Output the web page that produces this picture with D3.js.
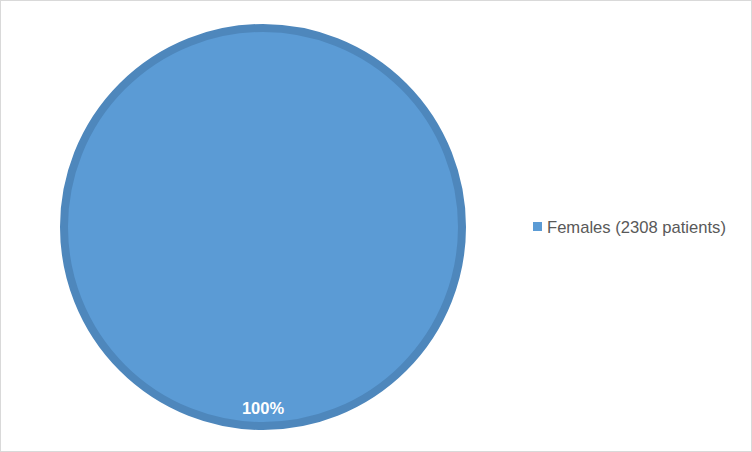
<!DOCTYPE html>
<html>
<head>
<meta charset="utf-8">
<script src="https://cdn.jsdelivr.net/npm/d3@7"></script>
<style>
  body { margin: 0; background: #fff; }
  svg { display: block; }
</style>
</head>
<body>
<svg id="canvas" width="752" height="452"></svg>
<script>
let categories = ['Females (2308 patients)'];
let values = [2308];
let colors = ['#5B9BD5'];

let canvas = d3.select('#canvas');

// chart frame
canvas.append('rect')
  .attr('x', 0.5).attr('y', 0.5)
  .attr('width', 751).attr('height', 451)
  .attr('fill', '#fff')
  .attr('stroke', '#d9d9d9');

let cx = 263, cy = 227, r = 199;
let total = d3.sum(values);

let pie = d3.pie().sort(null);
let arcs = pie(values);

let arc = d3.arc().innerRadius(0).outerRadius(r);
let labelArc = d3.arc().innerRadius(181).outerRadius(181);

let g = canvas.append('g').attr('transform', `translate(${cx},${cy})`);

g.selectAll('path')
  .data(arcs)
  .enter()
  .append('path')
  .attr('d', arc)
  .attr('fill', (d, i) => colors[i])
  .attr('stroke', '#4E87BC')
  .attr('stroke-width', 8);

g.selectAll('text')
  .data(arcs)
  .enter()
  .append('text')
  .attr('transform', (d) => `translate(${labelArc.centroid(d)})`)
  .attr('text-anchor', 'middle')
  .attr('dy', '0.35em')
  .attr('fill', '#fff')
  .attr('font-family', 'Liberation Sans, Arial, sans-serif')
  .attr('font-weight', 'bold')
  .attr('font-size', 16.5)
  .text((d) => Math.round(d.value / total * 100) + '%');

// legend
let legend = canvas.append('g').attr('transform', 'translate(533,221)');
legend.selectAll('rect')
  .data(categories)
  .enter()
  .append('rect')
  .attr('x', 0).attr('y', (d, i) => i * 20 + 1)
  .attr('width', 9).attr('height', 9)
  .attr('fill', (d, i) => colors[i]);

legend.selectAll('text')
  .data(categories)
  .enter()
  .append('text')
  .attr('x', 14).attr('y', (d, i) => i * 20 + 6)
  .attr('dy', '0.35em')
  .attr('fill', '#595959')
  .attr('font-family', 'Liberation Sans, Arial, sans-serif')
  .attr('font-size', 16.6)
  .text((d) => d);
</script>
</body>
</html>
